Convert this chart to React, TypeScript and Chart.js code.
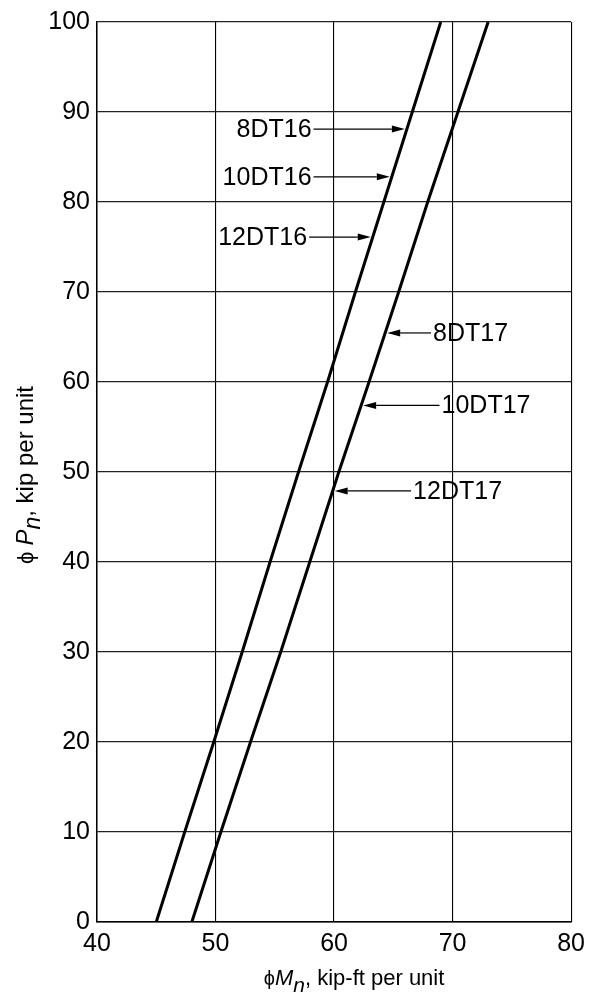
import React, { useEffect, useRef } from "react";
import { Chart, registerables } from "chart.js";

Chart.register(...registerables);

// Axial strength (phi Pn, kip per unit)
const pValues = [0, 10, 20, 30, 40, 50, 60, 70, 80, 90, 100];
// Moment strength (phi Mn, kip-ft per unit) for the two strand groups
const m16 = [45.0, 47.4, 49.85, 52.25, 54.6, 57.0, 59.45, 61.8, 64.2, 66.6, 69.0];
const m17 = [48.0, 50.45, 52.95, 55.5, 57.95, 60.4, 62.95, 65.45, 67.9, 70.45, 73.0];

const xTicks = [40, 50, 60, 70, 80];
const yTicks = [0, 10, 20, 30, 40, 50, 60, 70, 80, 90, 100];

// Callout labels
const labelNames = ["8DT16", "10DT16", "12DT16", "8DT17", "10DT17", "12DT17"];
const labelGroup = [0, 0, 0, 1, 1, 1];
const labelP = [88.1, 82.8, 76.1, 65.45, 57.4, 47.9];
const labelTailM = [58.27, 58.27, 57.9, 68.18, 68.9, 66.5];

const FONT = '"Liberation Sans", Arial, Helvetica, sans-serif';

function interpM(series: number[], p: number): number {
  for (let i = 0; i < pValues.length - 1; i++) {
    if (p >= pValues[i] && p <= pValues[i + 1]) {
      const t = (p - pValues[i]) / (pValues[i + 1] - pValues[i]);
      return series[i] + t * (series[i + 1] - series[i]);
    }
  }
  return series[series.length - 1];
}

const annotPlugin = {
  id: "annot",
  afterDraw(chart: any) {
    const ctx = chart.ctx as CanvasRenderingContext2D;
    const xs = chart.scales.x;
    const ys = chart.scales.y;
    const area = chart.chartArea;
    ctx.save();
    // callouts
    ctx.fillStyle = "#000";
    ctx.strokeStyle = "#000";
    ctx.font = `25px ${FONT}`;
    ctx.textBaseline = "middle";
    labelNames.forEach((name, i) => {
      const series = labelGroup[i] === 0 ? m16 : m17;
      const tipM = interpM(series, labelP[i]);
      const y = ys.getPixelForValue(labelP[i]);
      const tipX = xs.getPixelForValue(tipM) + (labelGroup[i] === 0 ? -2 : 2);
      const tailX = xs.getPixelForValue(labelTailM[i]);
      const dir = tipX > tailX ? 1 : -1;
      const headLen = 13;
      const headW = 3.5;
      ctx.lineWidth = 1.2;
      ctx.beginPath();
      ctx.moveTo(tailX, y);
      ctx.lineTo(tipX - dir * headLen, y);
      ctx.stroke();
      ctx.beginPath();
      ctx.moveTo(tipX, y);
      ctx.lineTo(tipX - dir * headLen, y - headW);
      ctx.lineTo(tipX - dir * headLen, y + headW);
      ctx.closePath();
      ctx.fill();
      if (dir > 0) {
        ctx.textAlign = "right";
        ctx.fillText(name, tailX - 2, y + 1);
      } else {
        ctx.textAlign = "left";
        ctx.fillText(name, tailX + 2, y + 1);
      }
    });

    // axis titles with italic variable and subscript
    const drawTitle = (parts: { t: string; f: string; dy: number }[], cx: number, cy: number) => {
      let total = 0;
      parts.forEach((p) => {
        ctx.font = p.f;
        total += ctx.measureText(p.t).width;
      });
      let x = cx - total / 2;
      ctx.textAlign = "left";
      ctx.textBaseline = "alphabetic";
      parts.forEach((p) => {
        ctx.font = p.f;
        ctx.fillText(p.t, x, cy + p.dy);
        x += ctx.measureText(p.t).width;
      });
    };

    drawTitle(
      [
        { t: "ϕ", f: `20px ${FONT}`, dy: 0 },
        { t: "M", f: `italic 22px ${FONT}`, dy: 0 },
        { t: "n", f: `italic 21px ${FONT}`, dy: 7 },
        { t: ", kip-ft per unit", f: `22px ${FONT}`, dy: 0 },
      ],
      (area.left + area.right) / 2 + 20,
      area.bottom + 63
    );

    ctx.save();
    ctx.translate(33, (area.top + area.bottom) / 2 + 3);
    ctx.rotate(-Math.PI / 2);
    drawTitle(
      [
        { t: "ϕ ", f: `22px ${FONT}`, dy: 0 },
        { t: "P", f: `italic 24px ${FONT}`, dy: 0 },
        { t: "n", f: `italic 23px ${FONT}`, dy: 7 },
        { t: ", kip per unit", f: `24px ${FONT}`, dy: 0 },
      ],
      0,
      0
    );
    ctx.restore();
    ctx.restore();
  },
};

export default function App() {
  const ref = useRef<HTMLCanvasElement | null>(null);
  useEffect(() => {
    if (!ref.current) return;
    const chart = new Chart(ref.current, {
      type: "line",
      data: {
        datasets: [
          {
            label: "8DT16, 10DT16, 12DT16",
            data: pValues.map((p, i) => ({ x: m16[i], y: p })),
            borderColor: "#000",
            borderWidth: 3,
            pointRadius: 0,
            tension: 0,
          },
          {
            label: "8DT17, 10DT17, 12DT17",
            data: pValues.map((p, i) => ({ x: m17[i], y: p })),
            borderColor: "#000",
            borderWidth: 3,
            pointRadius: 0,
            tension: 0,
          },
        ],
      },
      options: {
        animation: false,
        responsive: true,
        maintainAspectRatio: false,
        layout: { padding: { left: 0, right: 20, top: 17, bottom: 0 } },
        plugins: {
          legend: { display: false },
          tooltip: { enabled: false },
        },
        scales: {
          x: {
            type: "linear",
            min: 40,
            max: 80,
            afterBuildTicks: (s: any) => {
              s.ticks = xTicks.map((v) => ({ value: v }));
            },
            afterFit: (s: any) => {
              s.height = 74;
            },
            ticks: {
              color: "#000",
              font: { family: FONT, size: 25 },
              padding: 7,
              maxRotation: 0,
            },
            grid: { color: "#000", lineWidth: 1.1, drawTicks: false },
            border: { color: "#000", width: 1.5 },
          },
          y: {
            type: "linear",
            min: 0,
            max: 100,
            afterBuildTicks: (s: any) => {
              s.ticks = yTicks.map((v) => ({ value: v }));
            },
            afterFit: (s: any) => {
              s.width = 97;
            },
            ticks: {
              color: "#000",
              font: { family: FONT, size: 25 },
              padding: 7,
            },
            grid: { color: "#222", lineWidth: 1.3, drawTicks: false },
            border: { color: "#000", width: 1.5 },
          },
        },
      },
      plugins: [annotPlugin],
    } as any);
    return () => chart.destroy();
  }, []);
  return (
    <div style={{ position: "fixed", left: 0, top: 0, width: 592, height: 996, background: "#fff" }}>
      <canvas ref={ref} />
    </div>
  );
}
